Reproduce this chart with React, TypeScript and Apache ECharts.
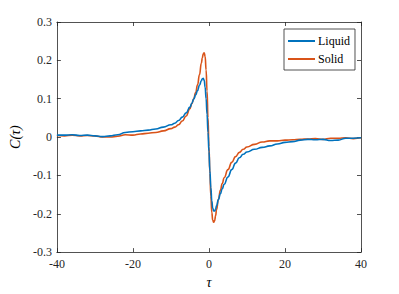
import React, { useEffect, useRef } from "react";
import * as echarts from "echarts";

const tau = [-40,-38,-36,-34,-32,-30,-28,-26,-24,-22,-20,-18,-16,-14,-12,-10,-9,-8,-7,-6,-5,-4.5,-4,-3.5,-3,-2.5,-2,-1.75,-1.5,-1.25,-1,-0.75,-0.5,-0.25,0,0.25,0.5,0.75,1,1.25,1.5,1.75,2,2.5,3,3.5,4,5,6,7,8,9,10,12,14,16,18,20,22,24,26,28,30,32,34,36,38,40];

const liquid = [0.005,0.005,0.006,0.004,0.005,0.003,0.001,0.003,0.006,0.012,0.014,0.016,0.018,0.021,0.026,0.032,0.036,0.043,0.052,0.063,0.078,0.088,0.099,0.11,0.121,0.135,0.147,0.152,0.153,0.148,0.13,0.1,0.06,0.012,-0.038,-0.088,-0.132,-0.166,-0.186,-0.193,-0.193,-0.188,-0.179,-0.163,-0.148,-0.135,-0.123,-0.104,-0.085,-0.068,-0.054,-0.045,-0.039,-0.032,-0.027,-0.023,-0.018,-0.014,-0.012,-0.008,-0.006,-0.007,-0.006,-0.009,-0.008,-0.003,-0.003,-0.002];

const solid = [0.004,0.003,0.005,0.003,0.004,0.003,0.0,0.0,0.002,0.006,0.005,0.008,0.01,0.012,0.016,0.022,0.026,0.032,0.042,0.055,0.074,0.087,0.1,0.116,0.136,0.162,0.192,0.206,0.217,0.22,0.21,0.175,0.12,0.05,-0.025,-0.095,-0.155,-0.197,-0.217,-0.222,-0.218,-0.205,-0.189,-0.162,-0.139,-0.121,-0.106,-0.085,-0.066,-0.051,-0.04,-0.032,-0.026,-0.019,-0.013,-0.01,-0.01,-0.008,-0.007,-0.006,-0.005,-0.004,-0.006,-0.003,-0.003,-0.002,-0.004,-0.002];

const seriesNames = ["Liquid", "Solid"];
const xTicks = [-40, -20, 0, 20, 40];
const yTicks = [-0.3, -0.2, -0.1, 0, 0.1, 0.2, 0.3];

const FONT = "'Liberation Serif', 'DejaVu Serif', serif";
const AX = "#262626";

export default function App() {
  const ref = useRef<HTMLDivElement>(null);
  useEffect(() => {
    const chart = echarts.init(ref.current!, null, { renderer: "svg" });
    const tick = { show: true, inside: true, length: 4, lineStyle: { color: AX, width: 0.8 } };
    const line = { show: true, onZero: false, lineStyle: { color: AX, width: 0.8 } };
    const lbl = { fontFamily: FONT, fontSize: 12, fontWeight: "normal", color: AX };
    chart.setOption({
      animation: false,
      backgroundColor: "#ffffff",
      grid: { left: 51, right: 38, top: 22, bottom: 39 },
      legend: {
        data: seriesNames,
        orient: "vertical",
        left: 284,
        top: 29,
        icon: "rect",
        itemWidth: 27,
        itemHeight: 2,
        itemGap: 6,
        padding: [6, 5, 5, 4],
        borderColor: AX,
        borderWidth: 0.8,
        borderRadius: 0,
        backgroundColor: "#ffffff",
        textStyle: { fontFamily: FONT, fontSize: 12, fontWeight: "normal", color: "#000", padding: [0, 0, 0, -2] },
      },
      xAxis: [
        {
          type: "value",
          min: xTicks[0],
          max: xTicks[xTicks.length - 1],
          interval: 20,
          position: "bottom",
          name: "τ",
          nameLocation: "middle",
          nameGap: 20,
          nameTextStyle: { fontFamily: FONT, fontStyle: "italic", fontSize: 14, color: "#000" },
          axisLine: line,
          axisTick: tick,
          splitLine: { show: false },
          axisLabel: { ...lbl, margin: 6 },
        },
        {
          type: "value",
          min: xTicks[0],
          max: xTicks[xTicks.length - 1],
          interval: 20,
          position: "top",
          axisLine: line,
          axisTick: tick,
          splitLine: { show: false },
          axisLabel: { show: false },
        },
      ],
      yAxis: [
        {
          type: "value",
          min: yTicks[0],
          max: yTicks[yTicks.length - 1],
          interval: 0.1,
          position: "left",
          name: "C(τ)",
          nameLocation: "middle",
          nameGap: 34,
          nameRotate: 90,
          nameTextStyle: { fontFamily: FONT, fontStyle: "italic", fontSize: 14, color: "#000" },
          axisLine: line,
          axisTick: tick,
          splitLine: { show: false },
          axisLabel: {
            ...lbl,
            margin: 5,
            formatter: (v: number) => (Math.abs(v) < 1e-9 ? "0" : v.toFixed(1)),
          },
        },
        {
          type: "value",
          min: yTicks[0],
          max: yTicks[yTicks.length - 1],
          interval: 0.1,
          position: "right",
          axisLine: line,
          axisTick: tick,
          splitLine: { show: false },
          axisLabel: { show: false },
        },
      ],
      series: [
        {
          name: seriesNames[0],
          type: "line",
          data: tau.map((t, i) => [t, liquid[i]]),
          showSymbol: false,
          symbol: "none",
          smooth: 0.5,
          smoothMonotone: "x",
          lineStyle: { color: "#0072BD", width: 1.6 },
          itemStyle: { color: "#0072BD" },
          z: 3,
        },
        {
          name: seriesNames[1],
          type: "line",
          data: tau.map((t, i) => [t, solid[i]]),
          showSymbol: false,
          symbol: "none",
          smooth: 0.5,
          smoothMonotone: "x",
          lineStyle: { color: "#D95319", width: 1.6 },
          itemStyle: { color: "#D95319" },
          z: 2,
        },
      ],
    });
    return () => chart.dispose();
  }, []);
  return (
    <div
      ref={ref}
      style={{ position: "fixed", left: 0, top: 0, width: 399, height: 294 }}
    />
  );
}
